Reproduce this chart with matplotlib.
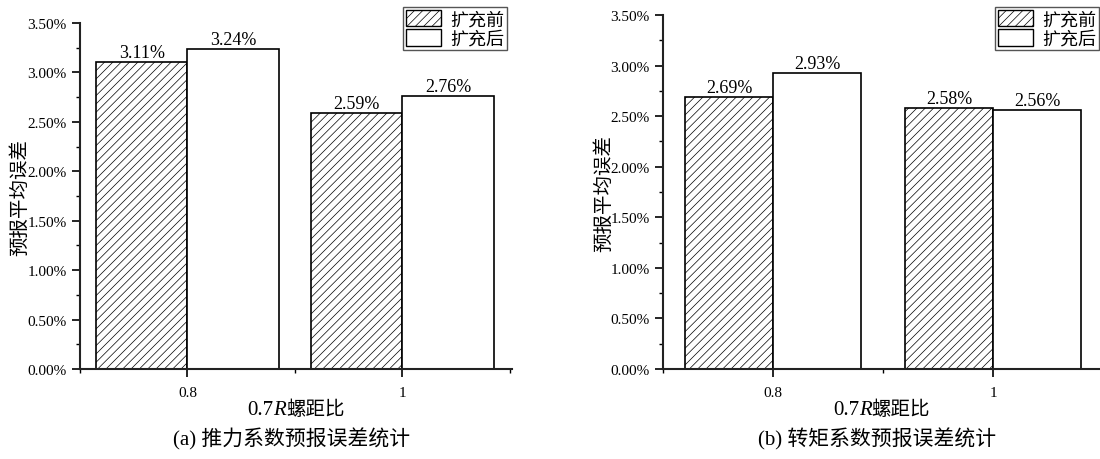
import numpy as np
import matplotlib
matplotlib.use("Agg")
import matplotlib.pyplot as plt
from matplotlib.patches import Patch
from matplotlib.ticker import MultipleLocator, FuncFormatter
from matplotlib.offsetbox import TextArea, HPacker, AnchoredOffsetbox

plt.rcParams['font.family'] = ['Liberation Serif', 'Noto Sans CJK SC']
plt.rcParams['hatch.linewidth'] = 0.5

categories = ['0.8', '1']
series_names = ['扩充前', '扩充后']
thrust_before = [3.11, 2.59]
thrust_after = [3.24, 2.76]
torque_before = [2.69, 2.58]
torque_after = [2.93, 2.56]
captions = ['(a) 推力系数预报误差统计', '(b) 转矩系数预报误差统计']
xlabel_parts = ['0.7', 'R', '螺距比']
ylabel = '预报平均误差'

W, H = 1100, 460
fig = plt.figure(figsize=(11, 4.6), dpi=100)


def px(x0, y0, x1, y1):
    return [x0 / W, 1 - y1 / H, (x1 - x0) / W, (y1 - y0) / H]


def draw(rect, before, after, width, xmax, leg_right, caption, ylab_x):
    ax = fig.add_axes(rect)
    x = np.arange(len(categories))
    b1 = ax.bar(x - width / 2, before, width, color='white', edgecolor='black',
                hatch='////', linewidth=1.2)
    b2 = ax.bar(x + width / 2, after, width, color='white', edgecolor='black',
                linewidth=1.2)
    for bars, vals in ((b1, before), (b2, after)):
        for b, v in zip(bars, vals):
            ax.text(b.get_x() + b.get_width() / 2, v + 0.01, f'{v:.2f}%',
                    ha='center', va='bottom', fontsize=13)
    ax.set_xlim(-0.5, xmax)
    ax.set_ylim(0, 3.5)
    ax.set_xticks(x)
    ax.set_xticklabels(categories)
    ax.xaxis.set_minor_locator(MultipleLocator(0.5))
    ax.yaxis.set_major_locator(MultipleLocator(0.5))
    ax.yaxis.set_major_formatter(FuncFormatter(lambda v, p: f'{v:.2f}%'))
    ax.yaxis.set_minor_locator(MultipleLocator(0.25))
    ax.tick_params(axis='both', which='major', length=6, width=1.2,
                   labelsize=11, direction='out')
    ax.tick_params(axis='both', which='minor', length=3, width=1.0,
                   direction='out')
    ax.tick_params(axis='x', which='major', pad=6)
    for s in ('top', 'right'):
        ax.spines[s].set_visible(False)
    for s in ('left', 'bottom'):
        ax.spines[s].set_linewidth(1.5)
        ax.spines[s].set_color('#222222')
    ax.set_ylabel(ylabel, fontsize=14)
    ax.yaxis.set_label_coords(ylab_x, 0.5)

    cx = rect[0] + rect[2] / 2
    pieces = [TextArea(xlabel_parts[0], textprops=dict(fontsize=15)),
              TextArea(xlabel_parts[1], textprops=dict(fontsize=15,
                                                       style='italic')),
              TextArea(xlabel_parts[2], textprops=dict(fontsize=14))]
    box = HPacker(children=pieces, align='baseline', pad=0, sep=0)
    anchored = AnchoredOffsetbox(loc='center', child=box, pad=0,
                                 frameon=False, bbox_to_anchor=(cx, 1 - 410 / H),
                                 bbox_transform=fig.transFigure, borderpad=0)
    fig.add_artist(anchored)
    fig.text(cx - 0.004, 1 - 439 / H, caption, ha='center', va='center',
             fontsize=15)

    handles = [Patch(facecolor='white', edgecolor='black', hatch='////',
                     linewidth=1.0),
               Patch(facecolor='white', edgecolor='black', linewidth=1.0)]
    leg = ax.legend(handles, series_names, loc='upper right',
                    bbox_to_anchor=(leg_right / W, 1 - 8 / H),
                    bbox_transform=fig.transFigure, fontsize=13,
                    fancybox=False, framealpha=1, edgecolor='#555555',
                    borderpad=0.15, labelspacing=0.05, handlelength=1.95,
                    handleheight=1.05, handletextpad=0.5, borderaxespad=0)
    leg.get_frame().set_linewidth(1.0)
    return ax


draw(px(80, 24, 512, 370), thrust_before, thrust_after, 0.425, 1.51, 507,
     captions[0], -0.118)
draw(px(663, 16, 1100, 370), torque_before, torque_after, 0.40, 1.486, 1099,
     captions[1], -0.114)

fig.savefig('out.png', dpi=100)
